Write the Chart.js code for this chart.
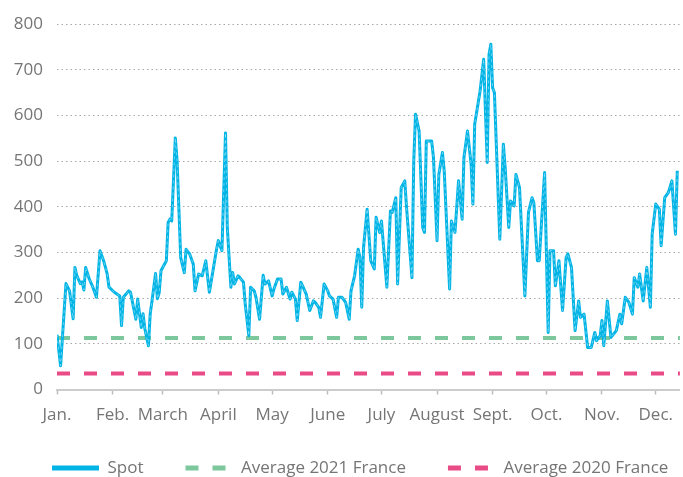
<!DOCTYPE html>
<html><head><meta charset="utf-8">
<script src="https://cdn.jsdelivr.net/npm/chart.js@4/dist/chart.umd.min.js"></script>
<style>html,body{margin:0;padding:0;background:#fff}#wrap{width:683px;height:477px}</style>
</head><body><div id="wrap"><canvas id="c" width="683" height="477"></canvas></div>
<script>
const monthLabels = ['Jan.','Feb.','March','April','May','June','July','August','Sept.','Oct.','Nov.','Dec.'];
const monthStartDays = [0,31,59,90,120,151,181,212,243,273,304,334];
const yTickValues = [0,100,200,300,400,500,600,700,800];
const spotDays = [0,2,5,7,9,10,11,13,14,15,16,18,20,22,24,26,28,29,32,35,36,37,40,41,44,45,47,48,49,51,52,53,55,56,57,58,61,62,63,64,66,67,69,71,72,74,76,77,79,81,83,85,87,89,90,92,94,95,97,98,99,101,102,104,105,107,108,110,111,113,115,116,118,120,121,123,125,126,128,130,131,133,134,136,137,139,141,143,144,146,147,149,151,152,154,156,157,159,161,163,164,166,168,169,170,171,173,175,177,178,180,181,184,186,187,189,190,192,194,195,198,199,200,202,204,205,206,209,210,212,213,215,216,219,220,222,224,226,227,229,231,232,233,236,238,240,241,242,243,244,247,249,250,252,253,255,256,258,261,263,265,266,268,269,270,272,274,275,277,278,280,282,284,285,287,289,291,292,294,296,298,300,301,303,304,305,307,309,312,314,315,317,319,321,322,324,325,327,329,331,332,334,336,337,339,341,343,345,346];
const spotValues = [120,52,232,216,155,267,250,232,236,218,267,242,224,202,304,282,253,224,213,205,140,202,216,213,154,198,136,166,133,96,166,194,254,199,212,260,282,366,373,369,551,500,289,256,307,297,275,216,253,249,282,213,260,307,326,304,562,355,224,256,231,249,245,235,187,118,224,216,202,154,250,231,238,205,220,242,242,209,224,198,213,198,151,235,227,209,173,194,191,180,158,231,216,205,198,158,202,202,191,154,216,249,307,289,180,311,395,282,264,377,344,369,224,391,388,420,231,442,457,398,245,500,603,566,355,344,544,544,508,326,471,519,479,220,369,344,457,373,508,566,493,406,581,653,723,497,734,756,661,650,329,537,486,355,413,402,471,442,205,388,420,409,282,282,348,475,125,304,304,227,282,173,289,297,267,129,194,158,165,92,92,125,107,118,151,96,194,114,129,165,144,202,191,165,245,224,253,194,267,180,340,406,395,315,420,431,457,340,479];
const average2021France = 113;
const average2020France = 35;
const seriesNames = ['Spot','Average 2021 France','Average 2020 France'];
const firstDay = 0, lastDay = 347.5;

// Legend tweaks: keep the three items on one row, and draw them a little above the legend box
// so the box does not clip the x tick labels above it.
const LEGEND_DRAW_SHIFT = 10;
try {
  const LegendCls = Chart.registry.plugins.get('legend')._element;
  const origFitRows = LegendCls.prototype._fitRows;
  LegendCls.prototype._fitRows = function(...args) {
    const mw = this.maxWidth; this.maxWidth = mw + 200;
    const r = origFitRows.apply(this, args);
    this.maxWidth = mw; return r;
  };
  const origDraw = LegendCls.prototype._draw;
  LegendCls.prototype._draw = function(...args) {
    const rr = this.right, tt = this.top;
    this.right = rr + 200; this.top = tt - LEGEND_DRAW_SHIFT;
    try { origDraw.apply(this, args); } finally { this.right = rr; this.top = tt; }
  };
} catch (e) {}

const spotPoints = spotDays.map((d,i)=>({x:d, y:spotValues[i]}));
const FONT = "'Open Sans', sans-serif";
const TXT = '#757575';

new Chart(document.getElementById('c'), {
  type: 'line',
  data: {
    datasets: [
      { label: '_overlay', data: spotPoints, borderColor: 'rgba(255,255,255,0.4)', borderWidth: 1, borderDash: [3,3], pointRadius: 0, tension: 0 },
      { label: seriesNames[0], data: spotPoints, borderColor: '#00b4e6', backgroundColor: '#00b4e6', borderWidth: 3, pointRadius: 0, tension: 0, borderJoinStyle: 'round' },
      { label: seriesNames[1], data: [{x:firstDay,y:average2021France},{x:lastDay,y:average2021France}], borderColor: '#7cc79c', backgroundColor: '#7cc79c', borderWidth: 4, borderDash: [13,14], pointRadius: 0 },
      { label: seriesNames[2], data: [{x:firstDay,y:average2020France},{x:lastDay,y:average2020France}], borderColor: '#e94b86', backgroundColor: '#e94b86', borderWidth: 4, borderDash: [13,14], pointRadius: 0 }
    ]
  },
  options: {
    responsive: false,
    animation: false,
    devicePixelRatio: 1,
    layout: { padding: { top: 23, bottom: -19.5, left: 10, right: 0 } },
    plugins: {
      tooltip: { enabled: false },
      legend: {
        position: 'bottom',
        align: 'start',
        labels: {
          font: { family: FONT, size: 17 },
          color: TXT,
          usePointStyle: true,
          pointStyleWidth: 47,
          padding: 42,
          filter: (item) => item.text !== '_overlay',
          generateLabels: (chart) => {
            const items = Chart.defaults.plugins.legend.labels.generateLabels(chart);
            items.forEach(it => {
              const ds = chart.data.datasets[it.datasetIndex];
              it.pointStyle = 'line';
              it.lineWidth = 5;
              it.lineDash = ds.borderDash || [];
              it.strokeStyle = ds.borderColor;
            });
            return items;
          }
        }
      }
    },
    scales: {
      x: {
        type: 'linear',
        min: firstDay, max: lastDay,
        afterBuildTicks: (scale) => { scale.ticks = monthStartDays.map(v => ({ value: v })); },
        afterFit: (scale) => { scale.height = 38; },
        ticks: {
          autoSkip: false, maxRotation: 0, padding: 10,
          font: { family: FONT, size: 17 }, color: TXT,
          callback: (value) => { const i = monthStartDays.indexOf(value); return i >= 0 ? monthLabels[i] : ''; }
        },
        grid: { drawOnChartArea: false, drawTicks: true, tickLength: 5, color: '#bdbdbd', tickWidth: 1.5 },
        border: { display: true, color: '#cccccc', width: 2 }
      },
      y: {
        min: 0, max: 800,
        afterBuildTicks: (scale) => { scale.ticks = yTickValues.map(v => ({ value: v })); },
        afterFit: (scale) => { scale.width = 47; },
        ticks: { padding: 14, font: { family: FONT, size: 17 }, color: TXT },
        grid: { drawTicks: false, color: '#a8a8a8', lineWidth: 1 },
        border: { display: false, dash: [1.5, 3] }
      }
    }
  }
});
</script>
</body></html>
